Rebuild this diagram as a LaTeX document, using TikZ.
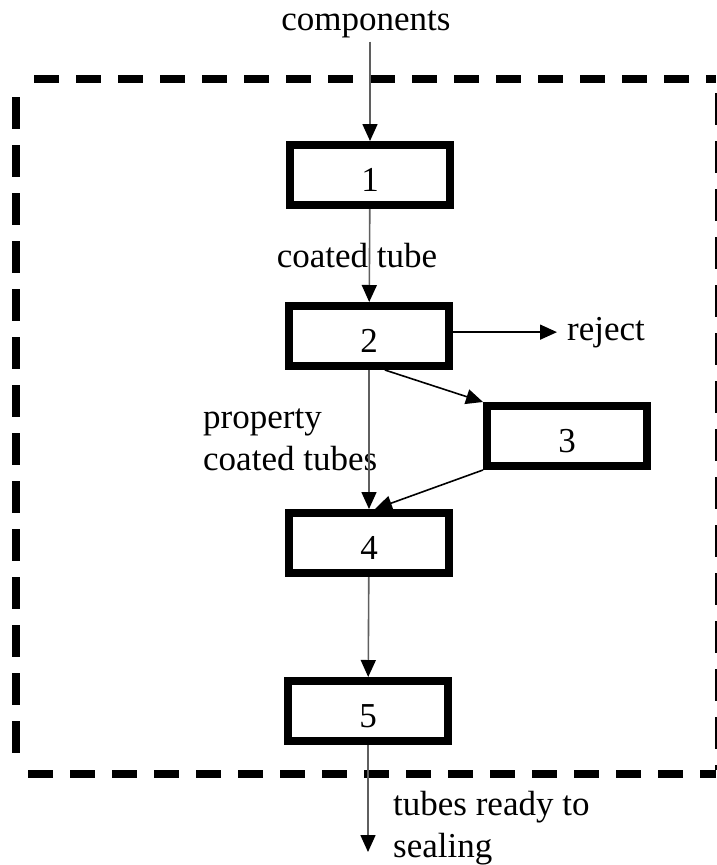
\documentclass[tikz,border=0pt]{standalone}
\usepackage{fontspec}
\setmainfont{Liberation Serif}
\usepackage{tikz}
\usetikzlibrary{positioning,arrows.meta}
\tikzstyle{sheet} = [x = 1pt, y = -1pt, font=\fontsize{35}{42}\selectfont]
\definecolor{flowGray}{RGB}{95,95,95}
\tikzstyle{stageBox} = [draw, line width = 8pt, minimum width = 160pt, minimum height = 60pt, text height = 33pt, text depth = 0pt, inner sep = 0pt]
\tikzstyle{flowLabel} = [inner sep = 0pt, align = left]
\tikzstyle{flowArrow} = [line width = 1.6pt, -{Triangle[length=17pt, width=15pt, color=black]}]
\tikzstyle{mainFlow} = [flowArrow, color=flowGray]
\tikzstyle{sideFlow} = [flowArrow, color=black]
\tikzstyle{frameH} = [line width = 8pt, dash pattern = on 25pt off 17pt]
\tikzstyle{frameV} = [line width = 8pt, dash pattern = on 32pt off 16pt]
\newcommand{\stage}[3]{\node [stageBox] (#1) at (#2) {#3};}

\begin{document}
\begin{tikzpicture}[sheet]
          \useasboundingbox (0,0) rectangle (716,865);

          % dashed frame around the stages
          \draw [frameH] (34,79) -- (716,79);
          \draw [frameH] (28,774) -- (716,774);
          \draw [frameV] (16,97) -- (16,766);
          \draw [frameV] (719,93) -- (719,770);

          \stage{s1}{370,175}{1}
          \stage{s2}{369,336}{2}
          \stage{s3}{567,436}{3}
          \stage{s4}{369,543}{4}
          \stage{s5}{368,711}{5}

          \node [flowLabel, anchor=base, inner sep=4pt] (comp) at (366,30) {components};
          \node [flowLabel, anchor=base] (coated) at (357,267) {coated tube};
          \node [flowLabel, anchor=north west] (proper) at (203,409) {property\\coated tubes};
          \node [flowLabel, anchor=base west, inner xsep=10pt] (rej) at (557,340) {reject};
          \node [flowLabel, anchor=north west] (ready) at (393,791) {tubes ready to\\sealing};
          \coordinate (sink) at (368,852);

          \draw [mainFlow] (comp.south -| s1.north) -- (s1.north);
          \draw [mainFlow] (s1) -- (s2);
          \draw [mainFlow] (s2) -- (s4);
          \draw [sideFlow] (s2.east |- rej.west) -- (rej.west);
          \draw [sideFlow] (s2.-65) -- (s3.north west);
          \draw [sideFlow] (s3.south west) -- (s4.80);
          \draw [mainFlow] (s4) -- (s5);
          \draw [mainFlow] (s5) -- (sink);
        \end{tikzpicture}
\end{document}
